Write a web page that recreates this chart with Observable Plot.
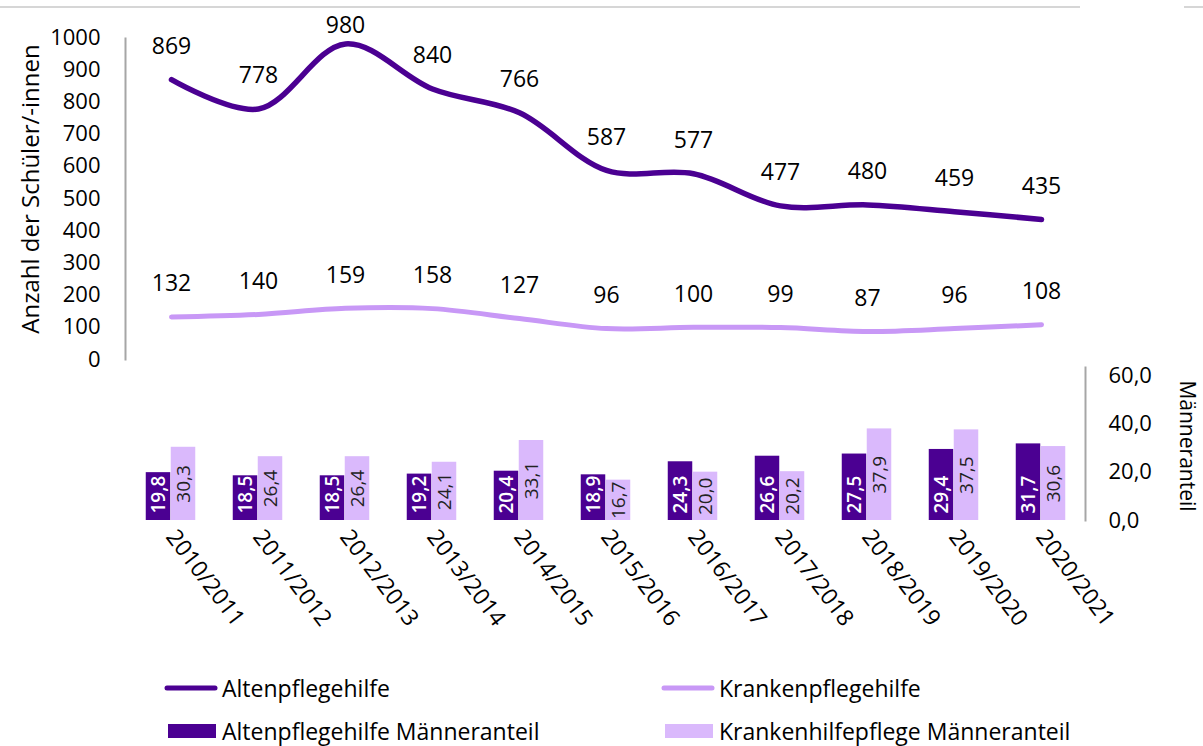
<!DOCTYPE html>
<html>
<head>
<meta charset="utf-8">
<script src="https://cdn.jsdelivr.net/npm/d3@7"></script>
<script src="https://cdn.jsdelivr.net/npm/@observablehq/plot@0.6"></script>
<style>
  body { margin: 0; background: #fff; font-family: "Open Sans", sans-serif; }
  #wrap { position: relative; width: 1203px; height: 746px; overflow: hidden; background: #fff; }
  #topChart, #bottomChart { position: absolute; left: 0; }
  #topChart { top: 0; }
  #bottomChart { top: 365px; }
  .hr { position: absolute; top: 6px; height: 2px; background: #d6d6d6; }
  #legend { position: absolute; left: 0; top: 660px; width: 1203px; height: 86px; }
  .item { position: absolute; display: flex; align-items: center; font-size: 23px; line-height: 26px; color: #000; white-space: nowrap; }
  .item svg { display: block; margin-right: 4px; }
</style>
</head>
<body>
<div id="wrap">
  <div class="hr" style="left:0;width:1080px"></div>
  <div class="hr" style="left:1184px;width:19px"></div>
  <div id="topChart"></div>
  <div id="bottomChart"></div>
  <div id="legend"></div>
</div>
<script>
// ---- data ----
const years = ["2010/2011","2011/2012","2012/2013","2013/2014","2014/2015","2015/2016","2016/2017","2017/2018","2018/2019","2019/2020","2020/2021"];
const altenpflegehilfe = [869, 778, 980, 840, 766, 587, 577, 477, 480, 459, 435];
const krankenpflegehilfe = [132, 140, 159, 158, 127, 96, 100, 99, 87, 96, 108];
const altenMaenneranteil = [19.8, 18.5, 18.5, 19.2, 20.4, 18.9, 24.3, 26.6, 27.5, 29.4, 31.7];
const krankenMaenneranteil = [30.3, 26.4, 26.4, 24.1, 33.1, 16.7, 20.0, 20.2, 37.9, 37.5, 30.6];
const leftTicks = [0, 100, 200, 300, 400, 500, 600, 700, 800, 900, 1000];
const rightTicks = [0, 20, 40, 60];
const legendItems = [
  {label: "Altenpflegehilfe", kind: "line", series: "alten"},
  {label: "Krankenpflegehilfe", kind: "line", series: "kranken"},
  {label: "Altenpflegehilfe Männeranteil", kind: "bar", series: "alten"},
  {label: "Krankenhilfepflege Männeranteil", kind: "bar", series: "kranken"}
];

// ---- styles ----
const darkLine = "#4b0092";
const lightLine = "#c898f6";
const darkBar = "#4b0092";
const lightBar = "#dab9fc";
const axisGray = "#a6a6a6";
const font = "'Open Sans', sans-serif";

const rows = years.map((y, i) => ({
  year: y,
  alten: altenpflegehilfe[i],
  kranken: krankenpflegehilfe[i],
  altenM: altenMaenneranteil[i],
  krankenM: krankenMaenneranteil[i]
}));

const fmt1 = d => d.toFixed(1).replace(".", ",");

// ---- top: line chart ----
const topPlot = Plot.plot({
  width: 1203, height: 365,
  marginTop: 38, marginBottom: 6, marginLeft: 125, marginRight: 0,
  x: {type: "point", domain: years, range: [168, 1043], padding: 0, axis: null},
  y: {domain: [0, 1000], range: [359, 37], axis: null},
  style: {fontFamily: font, fontSize: "23px", background: "transparent", color: "#000", overflow: "visible"},
  marks: [
    Plot.frame({anchor: "left", stroke: axisGray, strokeWidth: 2}),
    Plot.axisY({ticks: leftTicks, tickSize: 0, tickPadding: 25, tickFormat: d => String(d), fontSize: 22, label: null}),
    Plot.text(["Anzahl der Schüler/-innen"], {frameAnchor: "left", textAnchor: "middle", dx: -94, dy: -10, rotate: -90, fontSize: 24}),
    Plot.line(rows, {x: "year", y: "kranken", stroke: lightLine, strokeWidth: 5, curve: "catmull-rom", strokeLinecap: "round"}),
    Plot.line(rows, {x: "year", y: "alten", stroke: darkLine, strokeWidth: 5.5, curve: "catmull-rom", strokeLinecap: "round"}),
    Plot.text(rows, {filter: d => d.alten < 950, x: "year", y: "alten", text: d => String(d.alten), dy: -33, fontSize: 23}),
    Plot.text(rows, {filter: d => d.alten >= 950, x: "year", y: "alten", text: d => String(d.alten), dy: -18, fontSize: 23}),
    Plot.text(rows, {x: "year", y: "kranken", text: d => String(d.kranken), dy: -33, fontSize: 23})
  ]
});
document.getElementById("topChart").appendChild(topPlot);

// ---- bottom: bar chart ----
const bottomPlot = Plot.plot({
  width: 1203, height: 295,
  marginTop: 2, marginBottom: 140, marginLeft: 0, marginRight: 118,
  x: {type: "band", domain: years, range: [124.25, 1086.75], padding: 0, axis: null},
  y: {domain: [0, 60], range: [155, 10], axis: null},
  style: {fontFamily: font, fontSize: "21px", background: "transparent", color: "#000", overflow: "visible"},
  marks: [
    Plot.barY(rows, {x: "year", y: "altenM", fill: darkBar, insetLeft: 18.75, insetRight: 43.75}),
    Plot.barY(rows, {x: "year", y: "krankenM", fill: lightBar, insetLeft: 43.75, insetRight: 18.75}),
    Plot.text(rows, {x: "year", y: 0, text: d => fmt1(d.altenM), rotate: -90, textAnchor: "start", dx: -12.5, dy: -7, fill: "white", fontSize: 19, fontWeight: 600}),
    Plot.text(rows, {x: "year", y: d => d.krankenM / 2, text: d => fmt1(d.krankenM), rotate: -90, textAnchor: "middle", dx: 12.5, fill: "#222", fontSize: 19}),
    Plot.frame({anchor: "right", stroke: axisGray, strokeWidth: 2}),
    Plot.axisY({anchor: "right", ticks: rightTicks, tickSize: 0, tickPadding: 23, tickFormat: fmt1, fontSize: 22, label: null}),
    Plot.text(["Männeranteil"], {frameAnchor: "right", textAnchor: "middle", dx: 101, dy: 2, rotate: 90, fontSize: 21}),
    Plot.axisX({tickRotate: 53, tickSize: 0, tickPadding: 12, fontSize: 23, label: null})
  ]
});
document.getElementById("bottomChart").appendChild(bottomPlot);

// ---- legend ----
const legend = document.getElementById("legend");
const pos = [
  {left: 164, top: 28}, {left: 661, top: 28},
  {left: 166, top: 71}, {left: 663, top: 71}
];
legendItems.forEach((it, i) => {
  const div = document.createElement("div");
  div.className = "item";
  div.style.left = pos[i].left + "px";
  div.style.top = (pos[i].top - 13) + "px";
  div.style.height = "26px";
  const color = it.kind === "line"
    ? (it.series === "alten" ? darkLine : lightLine)
    : (it.series === "alten" ? darkBar : lightBar);
  const svg = it.kind === "line"
    ? `<svg width="54" height="10"><line x1="3" y1="5" x2="51" y2="5" stroke="${color}" stroke-width="5" stroke-linecap="round"/></svg>`
    : `<svg width="52" height="16"><rect x="2" y="1" width="48" height="14" fill="${color}"/></svg>`;
  div.innerHTML = svg + `<span>${it.label}</span>`;
  legend.appendChild(div);
});
</script>
</body>
</html>
